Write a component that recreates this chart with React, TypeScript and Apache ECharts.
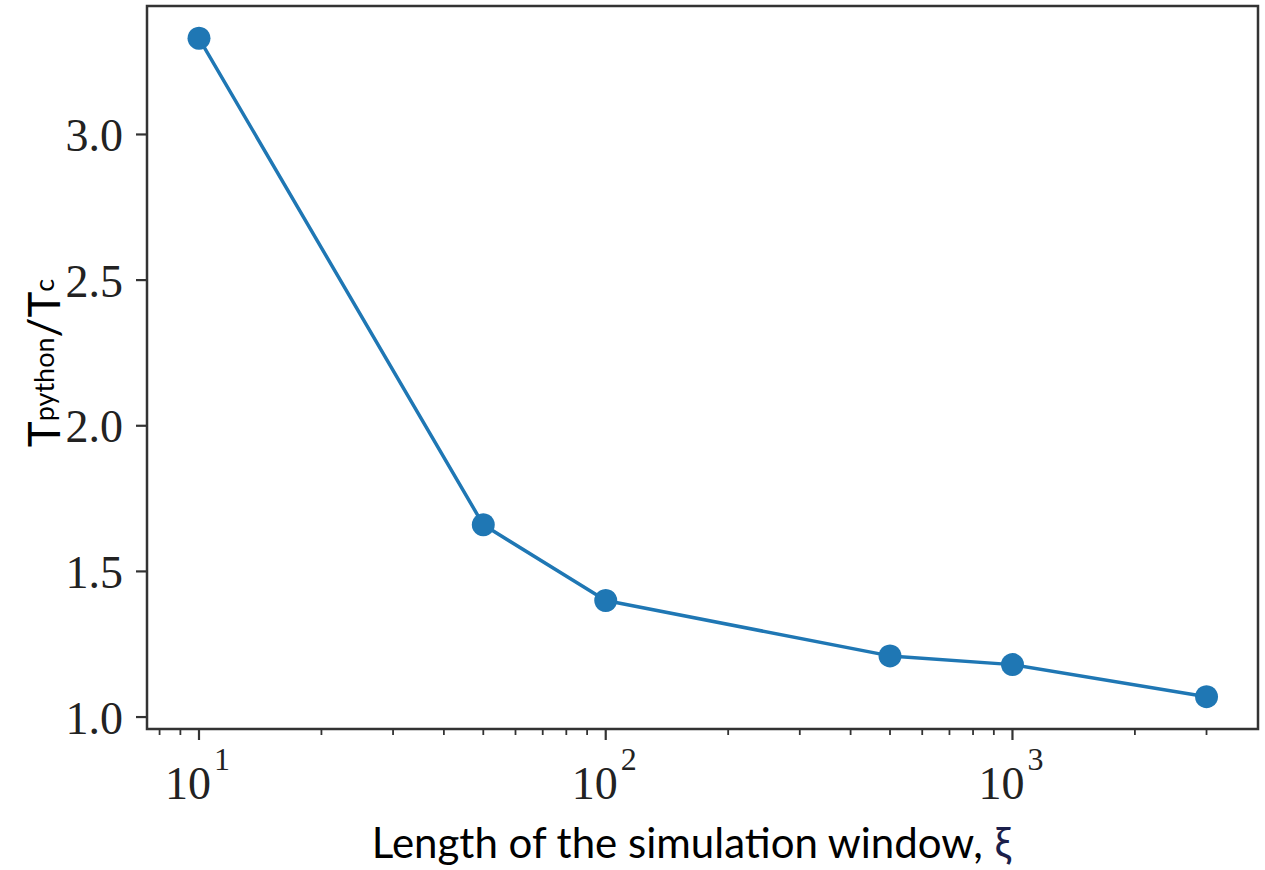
import React, { useEffect, useRef } from "react";
import * as echarts from "echarts";

const X_VALUES = [10, 50, 100, 500, 1000, 3000];
const Y_VALUES = [3.33, 1.66, 1.4, 1.21, 1.18, 1.07];
const X_MAJOR_TICKS = [10, 100, 1000];
const X_MAJOR_EXPONENTS = ["1", "2", "3"];
const X_MINOR_TICKS = [8, 9, 20, 30, 40, 50, 60, 70, 80, 90, 200, 300, 400, 500, 600, 700, 800, 900, 2000, 3000];
const Y_TICKS = [1.0, 1.5, 2.0, 2.5, 3.0];
const Y_TICK_LABELS = ["1.0", "1.5", "2.0", "2.5", "3.0"];

const X_MIN = 7.45;
const X_MAX = 4015;
const Y_MIN = 0.959;
const Y_MAX = 3.441;

const SERIF = "'Liberation Serif', 'DejaVu Serif', serif";
const SANS = "Lato, 'Open Sans', sans-serif";
const AXIS_COLOR = "#333333";
const LINE_COLOR = "#1f77b4";

export default function App() {
  const ref = useRef<HTMLDivElement>(null);

  useEffect(() => {
    if (!ref.current) return;
    const chart = echarts.init(ref.current, null, { renderer: "svg" });

    const xTickData = [
      ...X_MAJOR_TICKS.map((v, i) => ({ value: [v, Y_MIN, 1, i] })),
      ...X_MINOR_TICKS.map((v) => ({ value: [v, Y_MIN, 0, -1] })),
    ];
    const yTickData = Y_TICKS.map((v, i) => ({ value: [X_MIN, v, i] }));

    const option: any = {
      animation: false,
      backgroundColor: "#ffffff",
      grid: {
        left: 147,
        top: 6,
        right: 7,
        bottom: 141,
        show: true,
        borderColor: AXIS_COLOR,
        borderWidth: 2.5,
        backgroundColor: "transparent",
      },
      xAxis: {
        type: "log",
        logBase: 10,
        min: X_MIN,
        max: X_MAX,
        axisLine: { show: false },
        axisTick: { show: false },
        axisLabel: { show: false },
        splitLine: { show: false },
        minorTick: { show: false },
      },
      yAxis: {
        type: "value",
        min: Y_MIN,
        max: Y_MAX,
        axisLine: { show: false },
        axisTick: { show: false },
        axisLabel: { show: false },
        splitLine: { show: false },
      },
      series: [
        {
          type: "line",
          data: X_VALUES.map((x, i) => [x, Y_VALUES[i]]),
          symbol: "circle",
          symbolSize: 23,
          lineStyle: { color: LINE_COLOR, width: 3.5 },
          itemStyle: { color: LINE_COLOR },
          clip: false,
          silent: true,
          z: 5,
        },
        {
          type: "custom",
          data: xTickData,
          silent: true,
          clip: false,
          renderItem: (params: any, api: any) => {
            const v = api.value(0);
            const major = api.value(2) === 1;
            const idx = api.value(3);
            const p = api.coord([v, Y_MIN]);
            const len = major ? 11 : 6;
            const children: any[] = [
              {
                type: "line",
                shape: { x1: p[0], y1: p[1], x2: p[0], y2: p[1] + len },
                style: { stroke: AXIS_COLOR, lineWidth: major ? 2.2 : 1.8 },
              },
            ];
            if (major) {
              children.push({
                type: "text",
                x: p[0] + 12,
                y: 783,
                style: {
                  text: "10",
                  fontSize: 46,
                  fontFamily: SERIF,
                  fill: "#222222",
                  align: "right",
                  verticalAlign: "middle",
                  textAlign: "right",
                  textVerticalAlign: "middle",
                },
              });
              children.push({
                type: "text",
                x: p[0] + 15,
                y: 759,
                style: {
                  text: X_MAJOR_EXPONENTS[idx],
                  fontSize: 32,
                  fontFamily: SERIF,
                  fill: "#222222",
                  align: "left",
                  verticalAlign: "middle",
                  textAlign: "left",
                  textVerticalAlign: "middle",
                },
              });
            }
            return { type: "group", children };
          },
        },
        {
          type: "custom",
          data: yTickData,
          silent: true,
          clip: false,
          renderItem: (params: any, api: any) => {
            const v = api.value(1);
            const idx = api.value(2);
            const p = api.coord([X_MIN, v]);
            return {
              type: "group",
              children: [
                {
                  type: "line",
                  shape: { x1: p[0], y1: p[1], x2: p[0] - 11, y2: p[1] },
                  style: { stroke: AXIS_COLOR, lineWidth: 2.2 },
                },
                {
                  type: "text",
                  x: p[0] - 24,
                  y: p[1] + 1,
                  style: {
                    text: Y_TICK_LABELS[idx],
                    fontSize: 46,
                    fontFamily: SERIF,
                    fill: "#222222",
                    align: "right",
                    verticalAlign: "middle",
                    textAlign: "right",
                    textVerticalAlign: "middle",
                  },
                },
              ],
            };
          },
        },
      ],
      graphic: [
        {
          type: "text",
          x: 691,
          y: 842,
          style: {
            text: "{a|Length of the simulation window, }{b|ξ}",
            rich: {
              a: { fontSize: 42, fontFamily: SANS, fill: "#000000" },
              b: { fontSize: 42, fontFamily: SANS, fill: "#1b1f4b" },
            },
            align: "center",
            verticalAlign: "middle",
            textAlign: "center",
            textVerticalAlign: "middle",
          },
        },
        {
          type: "text",
          x: 43,
          y: 363,
          rotation: Math.PI / 2,
          style: {
            text: "{a|T}{b|python}{a|/T}{b|c}",
            rich: {
              a: { fontSize: 44, fontFamily: SANS, fill: "#000000" },
              b: { fontSize: 27, fontFamily: SANS, fill: "#000000", verticalAlign: "middle" },
            },
            align: "center",
            verticalAlign: "middle",
            textAlign: "center",
            textVerticalAlign: "middle",
          },
        },
      ],
    };

    chart.setOption(option);
    return () => chart.dispose();
  }, []);

  return (
    <div
      ref={ref}
      style={{ position: "fixed", left: 0, top: 0, width: 1265, height: 870, background: "#fff" }}
    />
  );
}
